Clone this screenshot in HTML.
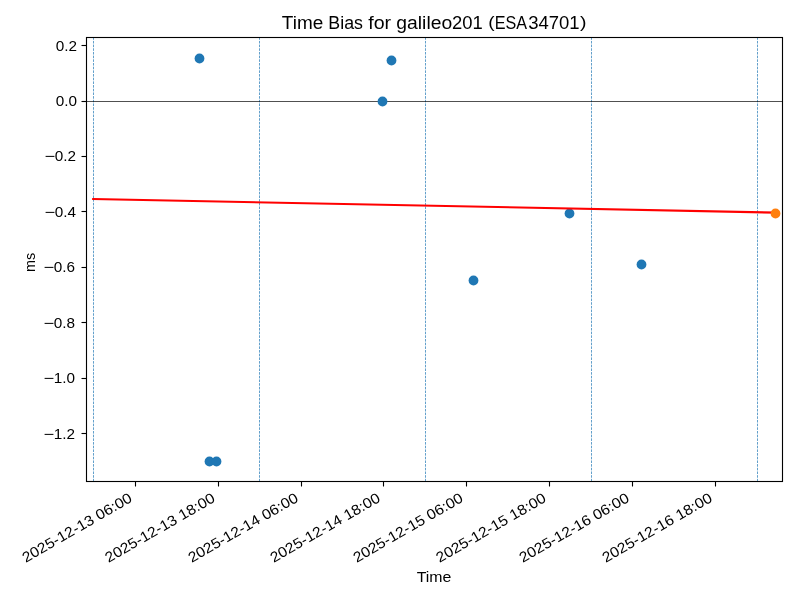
<!DOCTYPE html>
<html lang="en"><head><meta charset="utf-8"><title>Time Bias for galileo201 (ESA34701)</title>
<style>
html,body{margin:0;padding:0;background:#fff;}
svg{display:block;}
text{font-family:"Liberation Sans", sans-serif;fill:#000;}
.tk{font-size:14.50px;}
.sp{stroke:#000;stroke-width:1.11;fill:none;}
.vl{stroke:#1f77b4;stroke-width:0.7;stroke-dasharray:2.57 1.11;fill:none;}
.pt{fill:#1f77b4;}
</style></head><body>
<svg width="800" height="600" viewBox="0 0 800 600">
<defs><filter id="ga" filterUnits="userSpaceOnUse" x="0" y="0" width="800" height="600"><feOffset dx="0" dy="0"/></filter></defs>
<rect x="0" y="0" width="800" height="600" fill="#ffffff"/>
<!-- day boundaries -->
<g class="vl">
<path d="M93.5 481.41V37.33"/>
<path d="M259.5 481.41V37.33"/>
<path d="M425.5 481.41V37.33"/>
<path d="M591.5 481.41V37.33"/>
<path d="M757.5 481.41V37.33"/>
</g>
<!-- zero line -->
<path d="M86.46 101.5H782.35" stroke="#000" stroke-width="0.69" fill="none"/>
<!-- measurements -->
<g class="pt">
<circle cx="199.5" cy="58.5" r="4.89"/>
<circle cx="391.5" cy="60.5" r="4.89"/>
<circle cx="382.5" cy="101.5" r="4.89"/>
<circle cx="473.5" cy="280.5" r="4.89"/>
<circle cx="569.5" cy="213.5" r="4.89"/>
<circle cx="641.5" cy="264.5" r="4.89"/>
<circle cx="209.5" cy="461.5" r="4.89"/>
<circle cx="216.5" cy="461.5" r="4.89"/>
</g>
<!-- trend line + latest estimate -->
<path d="M93.2 198.97L775.4 212.62" stroke="#ff0000" stroke-width="2.083" stroke-linecap="square" fill="none"/>
<circle cx="775.5" cy="213.5" r="4.89" fill="#ff7f0e"/>
<!-- ticks + frame -->
<g class="sp">
<path d="M135.5 481.5V486.5"/>
<path d="M218.5 481.5V486.5"/>
<path d="M301.5 481.5V486.5"/>
<path d="M383.5 481.5V486.5"/>
<path d="M466.5 481.5V486.5"/>
<path d="M549.5 481.5V486.5"/>
<path d="M632.5 481.5V486.5"/>
<path d="M715.5 481.5V486.5"/>
<path d="M86.5 45.5H81.5"/>
<path d="M86.5 101.5H81.5"/>
<path d="M86.5 156.5H81.5"/>
<path d="M86.5 211.5H81.5"/>
<path d="M86.5 267.5H81.5"/>
<path d="M86.5 322.5H81.5"/>
<path d="M86.5 378.5H81.5"/>
<path d="M86.5 433.5H81.5"/>
<path d="M86.5 37.5H782.5V481.5H86.5Z" stroke-linejoin="miter"/>
</g>
<g fill="#000" fill-opacity="0.055"><rect x="86" y="36" width="697" height="3"/><rect x="86" y="480" width="697" height="3"/></g>
<g filter="url(#ga)">
<!-- y tick labels -->
<g class="tk">
<text x="55.69" y="51.00" textLength="21.30" lengthAdjust="spacingAndGlyphs">0.2</text>
<text x="55.69" y="106.00" textLength="21.30" lengthAdjust="spacingAndGlyphs">0.0</text>
<text y="161.00"><tspan x="44.59" textLength="10.60" lengthAdjust="spacingAndGlyphs">−</tspan><tspan x="54.69" textLength="21.30" lengthAdjust="spacingAndGlyphs">0.2</tspan></text>
<text y="217.00"><tspan x="44.59" textLength="10.60" lengthAdjust="spacingAndGlyphs">−</tspan><tspan x="54.69" textLength="21.30" lengthAdjust="spacingAndGlyphs">0.4</tspan></text>
<text y="272.00"><tspan x="43.59" textLength="10.60" lengthAdjust="spacingAndGlyphs">−</tspan><tspan x="53.69" textLength="21.30" lengthAdjust="spacingAndGlyphs">0.6</tspan></text>
<text y="328.00"><tspan x="43.59" textLength="10.60" lengthAdjust="spacingAndGlyphs">−</tspan><tspan x="53.69" textLength="21.30" lengthAdjust="spacingAndGlyphs">0.8</tspan></text>
<text y="383.00"><tspan x="43.59" textLength="10.60" lengthAdjust="spacingAndGlyphs">−</tspan><tspan x="53.69" textLength="21.30" lengthAdjust="spacingAndGlyphs">1.0</tspan></text>
<text y="439.00"><tspan x="43.59" textLength="10.60" lengthAdjust="spacingAndGlyphs">−</tspan><tspan x="53.69" textLength="21.30" lengthAdjust="spacingAndGlyphs">1.2</tspan></text>
<!-- x tick labels -->
<text transform="translate(25.65 562.98) rotate(-30)" textLength="124.20" lengthAdjust="spacingAndGlyphs">2025-12-13 06:00</text>
<text transform="translate(108.62 562.98) rotate(-30)" textLength="124.20" lengthAdjust="spacingAndGlyphs">2025-12-13 18:00</text>
<text transform="translate(191.72 562.92) rotate(-30)" textLength="124.20" lengthAdjust="spacingAndGlyphs">2025-12-14 06:00</text>
<text transform="translate(273.71 562.94) rotate(-30)" textLength="124.20" lengthAdjust="spacingAndGlyphs">2025-12-14 18:00</text>
<text transform="translate(356.63 562.98) rotate(-30)" textLength="124.20" lengthAdjust="spacingAndGlyphs">2025-12-15 06:00</text>
<text transform="translate(439.62 562.99) rotate(-30)" textLength="124.20" lengthAdjust="spacingAndGlyphs">2025-12-15 18:00</text>
<text transform="translate(522.72 562.95) rotate(-30)" textLength="124.20" lengthAdjust="spacingAndGlyphs">2025-12-16 06:00</text>
<text transform="translate(605.71 562.96) rotate(-30)" textLength="124.20" lengthAdjust="spacingAndGlyphs">2025-12-16 18:00</text>
</g>
<!-- axis labels -->
<text x="416.70" y="582" font-size="14.60" textLength="34.70" lengthAdjust="spacingAndGlyphs">Time</text>
<text transform="translate(34.56 271.90) rotate(-90)" font-size="14.45" textLength="19.20" lengthAdjust="spacingAndGlyphs">ms</text>
<!-- title -->
<text><tspan x="281.80" y="29.00" font-size="17.50" textLength="41.43" lengthAdjust="spacingAndGlyphs">Time</tspan> <tspan x="328.34" y="29.00" font-size="17.50" textLength="34.62" lengthAdjust="spacingAndGlyphs">Bias</tspan> <tspan x="368.21" y="29.00" font-size="17.50" textLength="22.87" lengthAdjust="spacingAndGlyphs">for</tspan> <tspan x="396.32" y="29.00" font-size="17.50" textLength="55.92" lengthAdjust="spacingAndGlyphs">galileo</tspan><tspan x="451.97" y="29.00" font-size="17.50" textLength="30.74" lengthAdjust="spacingAndGlyphs">201</tspan> <tspan x="488.19" y="27.90" font-size="15.93" textLength="6.38" lengthAdjust="spacingAndGlyphs">(</tspan><tspan x="494.81" y="29.00" font-size="17.50" textLength="32.33" lengthAdjust="spacingAndGlyphs">ESA</tspan><tspan x="528.23" y="29.00" font-size="17.50" textLength="51.43" lengthAdjust="spacingAndGlyphs">34701</tspan><tspan x="580.13" y="27.90" font-size="15.93" textLength="6.50" lengthAdjust="spacingAndGlyphs">)</tspan></text>
</g>
</svg>
</body></html>
